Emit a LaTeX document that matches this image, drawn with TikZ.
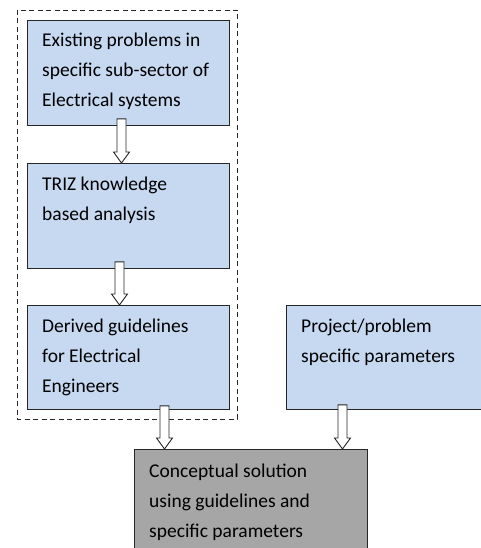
\documentclass[tikz,border=0pt]{standalone}
\usepackage{fontspec}
\setmainfont{Carlito}
\usepackage{tikz}
\usetikzlibrary{positioning,calc}
\usepackage{xcolor}

\definecolor{boxblue}{HTML}{C6D9F1}
\definecolor{boxgray}{HTML}{A6A6A6}
\definecolor{boxline}{HTML}{262626}

\tikzset{
  bluebox/.style={rectangle, draw=boxline, fill=boxblue, line width=0.9pt, anchor=north west, inner sep=0pt},
  graybox/.style={bluebox, fill=boxgray},
  boxtext/.style={anchor=base west, align=left, inner sep=0pt, font=\fontsize{19.5}{30}\selectfont},
}

% hollow block arrow, from shaft top (#1) down to tip (#2)
\newcommand{\blockarrow}[2]{%
  \draw[boxline, fill=white, line width=0.9pt, line join=miter] let \p1=(#1), \p2=(#2) in
    (\x1-4.5pt,\y1) -- (\x1-4.5pt,\y2+11pt) -- (\x1-8pt,\y2+11pt) -- (\x2,\y2)
    -- (\x1+8pt,\y2+11pt) -- (\x1+4.5pt,\y2+11pt) -- (\x1+4.5pt,\y1) -- cycle;}

\begin{document}
\begin{tikzpicture}[x=1pt, y=-1pt]
    \useasboundingbox (0,0) rectangle (481,548);
    \clip (0,0) rectangle (481,548);

    % dashed frame round the three steps
    \draw[boxline, line width=0.9pt, dash pattern=on 5pt off 3.5pt] (17,10) rectangle (237,419);

    \node[bluebox, minimum width=202pt, minimum height=105pt] (prob) at (27,20) {};
    \node[bluebox, minimum width=202pt, minimum height=105pt] (triz) at (27,163) {};
    \node[bluebox, minimum width=202pt, minimum height=104pt] (guide) at (27,305) {};
    \node[bluebox, minimum width=204pt, minimum height=104pt] (param) at (286,305) {};
    \node[graybox, minimum width=233pt, minimum height=115pt] (concl) at (134,449) {};

    % base anchor sits on the last line
    \node[boxtext] (probtxt) at ([xshift=15pt,yshift=-87pt]prob.north west)
        {Existing problems in\\specific sub-sector of\\Electrical systems};
    \node[boxtext] (triztxt) at ([xshift=15pt,yshift=-57pt]triz.north west)
        {TRIZ knowledge\\based analysis};
    \node[boxtext] (guidetxt) at ([xshift=15pt,yshift=-87pt]guide.north west)
        {Derived guidelines\\for Electrical\\Engineers};
    \node[boxtext] (paramtxt) at ([xshift=15pt,yshift=-57pt]param.north west)
        {Project/problem\\specific parameters};
    \node[boxtext] (concltxt) at ([xshift=15pt,yshift=-88pt]concl.north west)
        {Conceptual solution\\using guidelines and\\specific parameters};

    % arrows
    \coordinate (a1) at ([xshift=94.5pt,yshift=7pt]prob.south west);
    \coordinate (a2) at ([xshift=92.5pt,yshift=7pt]triz.south west);
    \coordinate (a3) at ([xshift=137.5pt,yshift=4pt]guide.south west);
    \coordinate (a4) at ([xshift=56.5pt,yshift=5pt]param.south west);
    \blockarrow{a1}{a1 |- triz.north}
    \blockarrow{a2}{a2 |- guide.north}
    \blockarrow{a3}{a3 |- concl.north}
    \blockarrow{a4}{a4 |- concl.north}
\end{tikzpicture}
\end{document}
